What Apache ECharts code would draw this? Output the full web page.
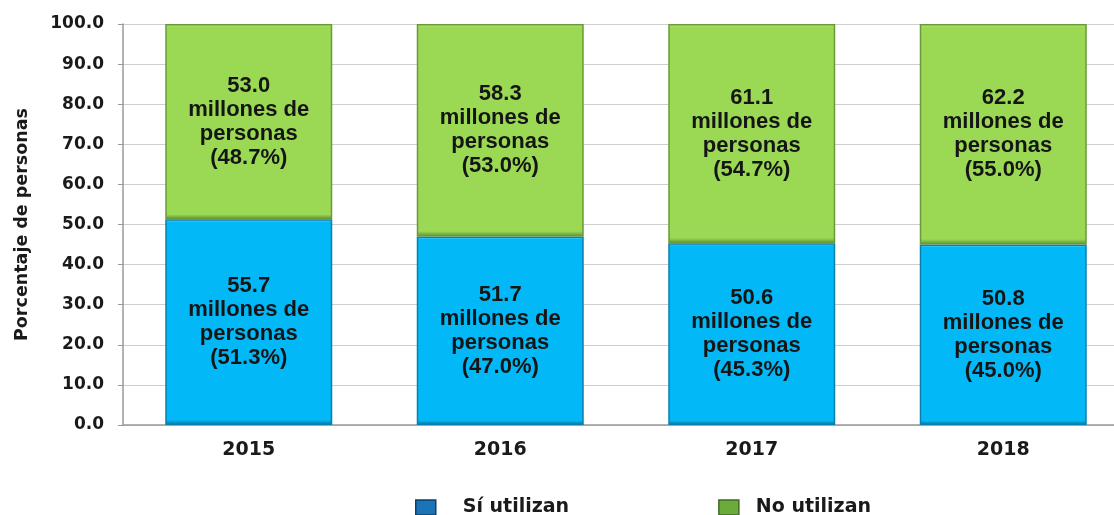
<!DOCTYPE html>
<html>
<head>
<meta charset="utf-8">
<script src="https://cdn.jsdelivr.net/npm/echarts@6/dist/echarts.min.js"></script>
<style>
  html, body { margin: 0; padding: 0; background: #fff; }
  #chart { width: 1114px; height: 515px; }
</style>
</head>
<body>
<div id="chart"></div>
<script>
// datos
const years = ["2015", "2016", "2017", "2018"];
const siPct = [51.3, 47.0, 45.3, 45.0];
const siMill = [55.7, 51.7, 50.6, 50.8];
const noPct = [48.7, 53.0, 54.7, 55.0];
const noMill = [53.0, 58.3, 61.1, 62.2];

const font = "DejaVu Sans, Verdana, sans-serif";
const labelFont = "Liberation Sans, Arial, sans-serif";

// relleno con relieve: franja clara arriba, oscura abajo
function bevel(light, base, dark) {
  return {
    type: "linear", x: 0, y: 0, x2: 0, y2: 1,
    colorStops: [
      { offset: 0, color: light },
      { offset: 0.015, color: base },
      { offset: 0.975, color: base },
      { offset: 1, color: dark },
    ],
  };
}

function labelFor(mill, pct) {
  return (params) =>
    mill[params.dataIndex].toFixed(1) + "\nmillones de\npersonas\n(" +
    pct[params.dataIndex].toFixed(1) + "%)";
}

const barLabel = {
  show: true,
  position: "inside",
  color: "#151515",
  fontFamily: labelFont,
  fontWeight: "bold",
  fontSize: 22,
  lineHeight: 24,
};

const chart = echarts.init(document.getElementById("chart"));
chart.setOption({
  animation: false,
  textStyle: { fontFamily: font },
  grid: { left: 123, top: 24, width: 1006, height: 401, outerBoundsMode: "none", containLabel: false },
  legend: {
    left: 415,
    top: 498,
    padding: 0,
    itemWidth: 20,
    itemHeight: 15,
    itemGap: 149,
    icon: "rect",
    textStyle: { fontFamily: font, fontWeight: "bold", fontSize: 19, color: "#1a1a1a" },
    data: [
      {
        name: "Sí utilizan",
        itemStyle: { color: "#1b73b8", borderColor: "#0c3f6a", borderWidth: 1.5 },
        textStyle: { padding: [0, 0, 0, 22] },
      },
      {
        name: "No utilizan",
        itemStyle: { color: "#6aab3c", borderColor: "#3f6d22", borderWidth: 1.5 },
        textStyle: { padding: [0, 0, 0, 12] },
      },
    ],
  },
  xAxis: {
    type: "category",
    data: years,
    axisLine: { lineStyle: { color: "#999", width: 1.5 } },
    axisTick: { show: false },
    axisLabel: {
      margin: 16, color: "#1a1a1a", fontWeight: "bold", fontSize: 19, fontFamily: font,
    },
  },
  yAxis: {
    type: "value",
    min: 0,
    max: 100,
    interval: 10,
    name: "Porcentaje de personas",
    nameLocation: "middle",
    nameRotate: 90,
    nameGap: 92,
    nameTextStyle: { color: "#1a1a1a", fontWeight: "bold", fontSize: 17.5, fontFamily: font },
    axisLine: { show: true, lineStyle: { color: "#999", width: 1.5 } },
    axisTick: { show: true, length: 5, lineStyle: { color: "#999" } },
    splitLine: { lineStyle: { color: "#cfcfcf", width: 1 } },
    axisLabel: {
      margin: 19,
      color: "#1a1a1a", fontWeight: "bold", fontSize: 17, fontFamily: font,
      formatter: (v) => v.toFixed(1),
    },
  },
  series: [
    {
      name: "Sí utilizan",
      type: "bar",
      stack: "total",
      barWidth: "66.4%",
      data: siPct,
      itemStyle: {
        color: bevel("#6fe0ff", "#03b8f6", "#05729a"),
        borderColor: "#0a7fae",
        borderWidth: 1.5,
      },
      label: { ...barLabel, formatter: labelFor(siMill, siPct) },
    },
    {
      name: "No utilizan",
      type: "bar",
      stack: "total",
      data: noPct,
      itemStyle: {
        color: bevel("#c2f090", "#9bd955", "#5f8a33"),
        borderColor: "#6a9a38",
        borderWidth: 1.5,
      },
      label: { ...barLabel, formatter: labelFor(noMill, noPct) },
    },
  ],
});
</script>
</body>
</html>
